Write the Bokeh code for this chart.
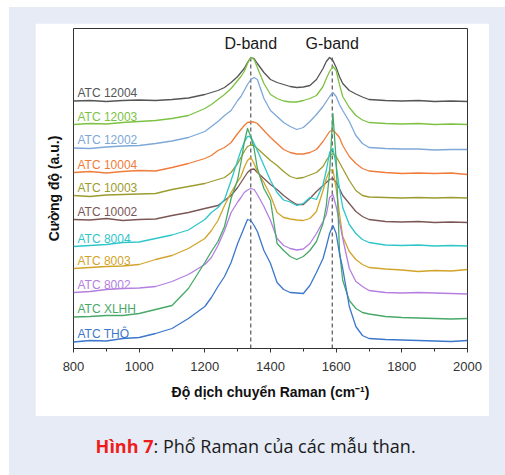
from bokeh.core.properties import value
from bokeh.embed import file_html
from bokeh.layouts import column, row
from bokeh.models import ColumnDataSource, FixedTicker, Range1d, SingleIntervalTicker, Spacer
from bokeh.plotting import figure
from bokeh.resources import INLINE

# Raman shift grid (cm^-1), denser around the D and G bands
wavenumber = [800, 850, 900, 950, 1000, 1050, 1100, 1150, 1200,
              1220, 1240, 1260, 1280, 1300,
              1310, 1320, 1330, 1340, 1350, 1360,
              1380, 1400, 1420, 1440, 1460, 1480, 1500, 1520, 1540, 1560,
              1570, 1580, 1590, 1600, 1610, 1620,
              1640, 1660, 1680, 1700,
              1750, 1800, 1850, 1900, 1950, 2000]

# Stacked (offset) intensities, a.u.
atc_12004 = [247.5, 248, 247, 248, 248.5, 248, 249, 250.5, 254,
             256, 258, 261, 266, 272,
             276, 280, 286, 291, 290, 285,
             276, 269, 266, 264, 262, 261, 261.5, 263, 269, 280,
             287, 291, 288, 281, 272, 265,
             258, 254.5, 251.5, 249,
             248, 247.5, 248, 247, 247.5, 247]
atc_12003 = [224, 225, 224.5, 226, 227, 228, 230, 233, 240,
             244, 249, 254, 260, 268,
             272, 277, 285, 291, 289, 281,
             265, 254, 250, 247.5, 246.5, 246.5, 248, 250, 253, 262,
             270, 277, 282, 278, 264, 252,
             241, 233, 228.5, 226,
             225, 224.5, 225, 224, 224.5, 224]
atc_12002 = [200.5, 200, 201.5, 202.5, 203, 205, 207.5, 211, 217,
             222, 227, 233, 238, 248,
             252, 258, 264, 269, 271, 269,
             250, 238, 232, 226, 222, 219, 221, 227, 234, 242,
             247, 252, 256, 252, 244, 238,
             227, 213, 205, 201,
             200, 199.5, 199.5, 198.5, 199, 199]
atc_10004 = [176, 177, 175.5, 177, 178, 177.5, 181, 185, 190,
             193, 198, 201, 206, 215,
             219, 223, 226, 226.5, 226.5, 225,
             218, 211, 205, 199, 196, 194.5, 194.5, 196, 199, 207,
             212, 217, 218.5, 215, 211, 203,
             192, 185, 180, 177.5,
             176, 175, 175.5, 175, 175.5, 174]
atc_10003 = [153, 152, 153.5, 154, 154.5, 155, 159, 162, 165,
             167, 169, 171, 176, 185,
             191, 197, 202, 203.5, 203, 200,
             194, 188, 183, 177, 172, 170, 171, 173.5, 176, 182,
             188, 193, 195, 192, 186, 180,
             168, 158, 153, 151.5,
             151, 150.5, 151, 150.5, 151, 150.5]
atc_10002 = [129, 128.5, 130, 128, 129, 129.5, 133, 136, 140,
             141.5, 143, 148, 153, 161,
             166, 171, 176, 179, 179.5, 176,
             170, 164, 159, 153, 148, 144, 144, 150, 157, 163,
             166, 169, 170, 166, 160, 153,
             145, 137, 132, 129,
             127, 126.5, 127, 126, 126.5, 126]
atc_8004 = [102, 103, 104, 106, 106.5, 110, 113.5, 118.5, 129,
            136, 141, 149, 168, 188,
            198, 206, 212, 212, 205, 198,
            183, 168, 156, 148.5, 146.5, 143, 145, 151, 149, 164,
            178, 196, 200, 183, 160, 141,
            124, 115, 109, 106,
            103.5, 103, 103.5, 102.5, 103, 102.5]
atc_8003 = [80, 81, 82, 82.5, 84, 89, 93, 100, 110,
            118, 128, 143, 156, 167,
            172, 181, 188, 191, 185, 177,
            166, 153, 136, 131, 129.5, 128.5, 128, 130, 137, 158,
            170, 178, 179, 160, 135, 112,
            97, 89, 84, 81,
            79.5, 78.5, 77, 78, 77.5, 79]
atc_8002 = [56, 57, 59, 60, 60.5, 62, 67, 74, 84,
            91, 103, 118, 136, 146.5,
            151, 156, 158.5, 160, 159, 154,
            142, 128, 110, 103, 100, 98.5, 99.5, 105, 115, 127,
            134, 151, 154, 142, 127, 110,
            80, 67, 62, 58,
            56, 55.5, 56, 55.5, 55, 54.5]
atc_xlhh = [31.5, 32, 33, 33, 35, 39, 43, 60, 86,
            97, 107, 122, 150, 169,
            186, 206, 220, 212, 200, 180,
            160, 148, 105, 98, 92, 89, 92, 98, 107, 125,
            143, 176, 235, 188, 98, 68,
            48, 40, 36, 34.5,
            32, 31, 30.5, 30, 29.5, 30]
atc_tho = [6.5, 8, 7.5, 10, 11, 15, 20, 30, 42,
           51, 62, 72, 86, 105,
           113, 121, 129, 128, 123, 117,
           98, 85, 66, 59, 56, 55.5, 55, 63, 76, 90,
           102, 115, 123, 115, 95, 80,
           42, 22, 13, 10,
           9, 8.5, 8, 7.5, 7, 8]

samples = ["ATC 12004", "ATC 12003", "ATC 12002", "ATC 10004", "ATC 10003",
           "ATC 10002", "ATC 8004", "ATC 8003", "ATC 8002", "ATC XLHH", "ATC THÔ"]
spectra = [atc_12004, atc_12003, atc_12002, atc_10004, atc_10003,
           atc_10002, atc_8004, atc_8003, atc_8002, atc_xlhh, atc_tho]
colors = ["#555555", "#7dc242", "#7ea8d8", "#f07c3a", "#9c9c2e",
          "#7b5656", "#2ec6c9", "#d2a42a", "#b47fe0", "#48a868", "#3b77cc"]

# Band positions (cm^-1)
band_names = ["D-band", "G-band"]
band_positions = [1340, 1588]

PAGE_BG = "#e6ebf5"
INK = "#333333"
FONT = "Liberation Sans"

# ---- chart panel (white card) ----
p = figure(width=454, height=393,
           x_range=Range1d(800, 2000), y_range=Range1d(0, 320),
           output_backend="svg", toolbar_location=None,
           min_border_left=38, min_border_right=22,
           min_border_top=5, min_border_bottom=68,
           border_fill_color="white", background_fill_color="white",
           outline_line_color=INK, outline_line_width=1)
p.grid.visible = False

ya = p.yaxis[0]
ya.ticker = FixedTicker(ticks=[])
ya.axis_line_color = None
ya.major_tick_line_color = None
ya.minor_tick_line_color = None
ya.major_label_standoff = 0
ya.axis_label = "Cường độ (a.u.)"
ya.axis_label_text_font = FONT
ya.axis_label_text_font_size = "14px"
ya.axis_label_text_font_style = "bold"
ya.axis_label_text_color = "#111111"
ya.axis_label_standoff = 12

xa = p.xaxis[0]
xa.ticker = SingleIntervalTicker(interval=200, num_minor_ticks=2)
xa.axis_line_color = INK
xa.major_tick_line_color = INK
xa.minor_tick_line_color = INK
xa.major_tick_in = 0
xa.major_tick_out = 4
xa.minor_tick_in = 0
xa.minor_tick_out = 3
xa.major_label_standoff = 9
xa.major_label_text_font = FONT
xa.major_label_text_font_size = "13px"
xa.major_label_text_color = INK
xa.axis_label = "Độ dịch chuyển Raman (cm⁻¹)"
xa.axis_label_text_font = FONT
xa.axis_label_text_font_size = "14px"
xa.axis_label_text_font_style = "bold"
xa.axis_label_text_color = "#111111"
xa.axis_label_standoff = 10

# dashed guides at the D and G band positions
band_top = max(atc_12004)
p.segment(x0=band_positions, y0=[0, 0], x1=band_positions, y1=[band_top, band_top],
          line_color=INK, line_width=1, line_dash="4 3")

for ys, c in zip(spectra, colors):
    p.line(wavenumber, ys, line_color=c, line_width=1.3, line_join="round")

label_src = ColumnDataSource(dict(
    x=[812] * len(samples),
    y=[ys[0] for ys in spectra],
    text=samples,
    color=colors,
))
p.text(x="x", y="y", text="text", text_color="color", source=label_src,
       text_font=value(FONT), text_font_size="12px",
       text_baseline="middle", y_offset=-8)

p.text(x=band_positions, y=[band_top, band_top], text=band_names,
       text_font=value(FONT), text_font_size="16px", text_color="#1a1a1a",
       text_align="center", text_baseline="middle", y_offset=-14)

# ---- caption strip ----
cap = figure(width=496, height=59,
             x_range=Range1d(0, 496), y_range=Range1d(59, 0),
             output_backend="svg", toolbar_location=None,
             min_border=0, border_fill_color=PAGE_BG,
             background_fill_color=PAGE_BG, outline_line_color=None)
cap.axis.visible = False
cap.grid.visible = False
cap.text(x=[144], y=[29], text=["Hình 7"], text_font=value("Open Sans"),
         text_font_size="18px", text_font_style="bold", text_color="#ee1c1c",
         text_align="right", text_baseline="middle")
cap.text(x=[144], y=[29], text=[": Phổ Raman của các mẫu than."],
         text_font=value("Open Sans"), text_font_size="18px", text_color="#1a1a1a",
         text_align="left", text_baseline="middle")

card = column(
    Spacer(height=16),
    row(Spacer(width=26), p, Spacer(width=16), spacing=0),
    cap,
    spacing=0,
    styles={"background-color": PAGE_BG},
)
page = column(Spacer(height=7), row(Spacer(width=9), card, spacing=0), spacing=0)

open("out.html", "w").write(file_html(page, INLINE))
